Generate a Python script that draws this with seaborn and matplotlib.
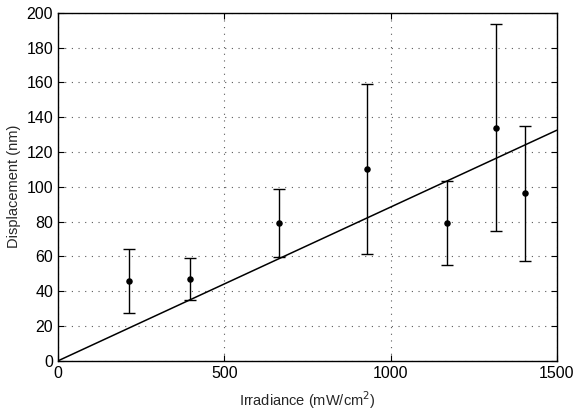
import matplotlib
matplotlib.use("Agg")
import matplotlib.pyplot as plt
import seaborn as sns

irradiance = [214, 397, 665, 930, 1169, 1316, 1404]
displacement = [45.6, 47.0, 79.3, 110.0, 79.3, 134.0, 96.4]
err_low = [27.4, 35.0, 59.6, 61.5, 54.8, 74.5, 57.3]
err_high = [64.2, 59.0, 99.0, 159.0, 103.4, 193.3, 135.2]

# linear fit line
fit_x = [0, 1500]
fit_y = [0, 132.5]

sns.set_style("ticks")
plt.rcParams["font.family"] = ["Liberation Sans", "DejaVu Sans"]

fig = plt.figure(figsize=(5.74, 4.11), dpi=100)
ax = fig.add_axes([0.101, 0.122, 0.869, 0.847])

lower = [d - lo for d, lo in zip(displacement, err_low)]
upper = [hi - d for d, hi in zip(displacement, err_high)]
ax.errorbar(irradiance, displacement, yerr=[lower, upper], fmt="none",
            ecolor="black", elinewidth=1.0, capsize=4, capthick=1.0, zorder=3)
sns.scatterplot(x=irradiance, y=displacement, color="black", s=22,
                edgecolor="black", linewidth=0, ax=ax, zorder=4)
sns.lineplot(x=fit_x, y=fit_y, color="black", linewidth=1.1, ax=ax, zorder=3)

ax.set_xlim(0, 1500)
ax.set_ylim(0, 200)
ax.set_xticks([0, 500, 1000, 1500])
ax.set_yticks(range(0, 201, 20))
ax.grid(True, linestyle=(0, (1, 5)), color="0.35", linewidth=0.8)
ax.tick_params(direction="in", length=4, top=True, right=True, labelsize=11.5,
               colors="black", width=0.8)
for s in ax.spines.values():
    s.set_linewidth(1.0)
    s.set_color("black")

ax.set_xlabel("Irradiance (mW/cm$^2$)", fontsize=10.5, labelpad=6)
ax.set_ylabel("Displacement (nm)", fontsize=10.5, labelpad=4)

fig.savefig("out.png", dpi=100)
